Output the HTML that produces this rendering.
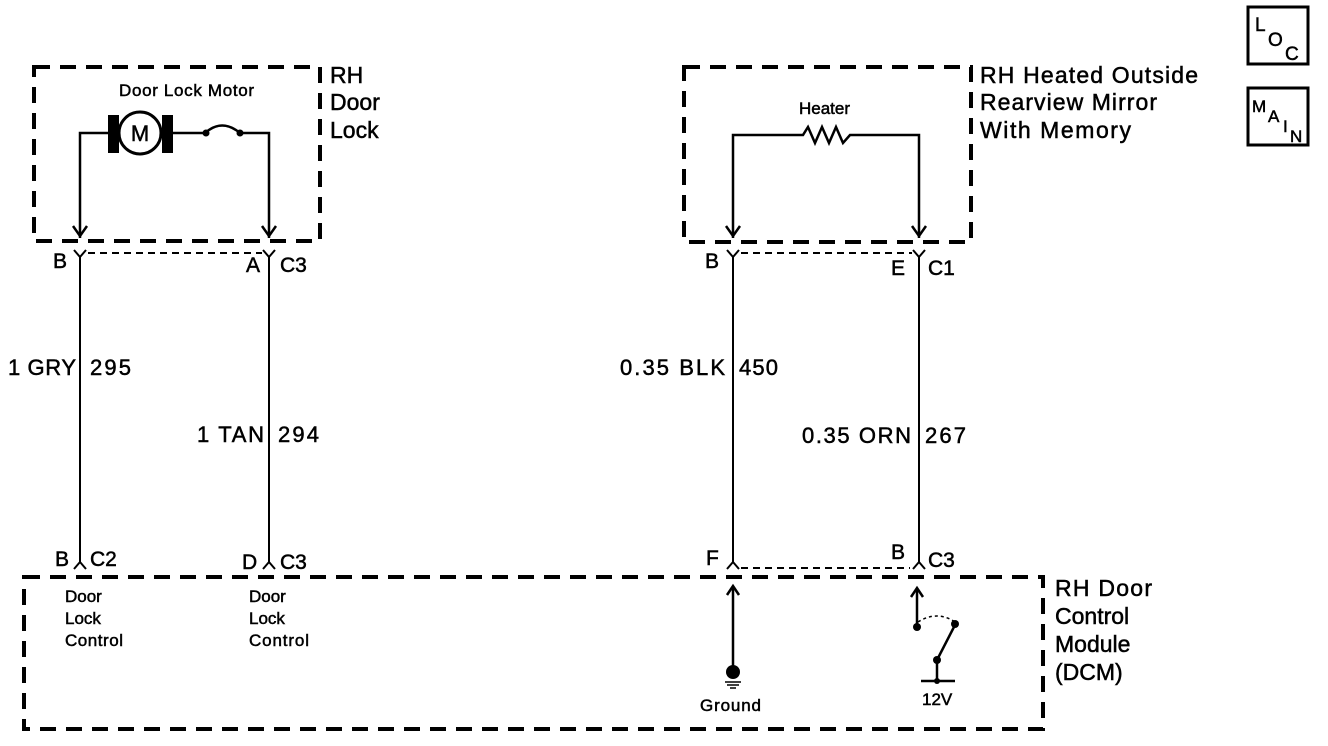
<!DOCTYPE html>
<html><head><meta charset="utf-8"><style>
html,body{margin:0;padding:0;background:#fff;}
svg{display:block;}
text{font-family:"Liberation Sans",Arial,sans-serif;fill:#000;stroke:#000;stroke-width:0.5;}
</style></head><body>
<svg width="1328" height="746" viewBox="0 0 1328 746" xmlns="http://www.w3.org/2000/svg">
<g fill="none" stroke="#000">
<rect x="34" y="67" width="286" height="174" stroke-width="4" stroke-dasharray="16,10"/>
<rect x="684" y="67" width="287" height="175" stroke-width="4" stroke-dasharray="16,10"/>
<rect x="24" y="577" width="1019" height="152" stroke-width="4" stroke-dasharray="16,10"/>
<line x1="88" y1="253" x2="262" y2="253" stroke-width="2" stroke-dasharray="7,5"/>
<line x1="741" y1="253" x2="912" y2="253" stroke-width="2" stroke-dasharray="7,5"/>
<line x1="741" y1="568" x2="910" y2="568" stroke-width="2" stroke-dasharray="7,5"/>
<polyline points="80,238 80,133 108,133" stroke-width="2.5"/>
<polyline points="172,133 205,133" stroke-width="2.5"/>
<path d="M205,133 Q222,118 240,133" stroke-width="2.5"/>
<polyline points="240,133 269,133 269,238" stroke-width="2.5"/>
<polyline points="73,226 80,236 87,226" stroke-width="2.5"/>
<polyline points="262,226 269,236 276,226" stroke-width="2.5"/>
<polyline points="733,238 733,135 803,135 808,127 815,143 822,127 829,143 836,127 843,143 850,135 919,135 919,238" stroke-width="2.5"/>
<polyline points="726,226 733,236 740,226" stroke-width="2.5"/>
<polyline points="912,226 919,236 926,226" stroke-width="2.5"/>
<g stroke-width="2">
<polyline points="74,250 80,257 86,250"/><line x1="80" y1="257" x2="80" y2="555"/>
<polyline points="263,250 269,257 275,250"/><line x1="269" y1="257" x2="269" y2="555"/>
<polyline points="727,250 733,257 739,250"/><line x1="733" y1="257" x2="733" y2="555"/>
<polyline points="913,250 919,257 925,250"/><line x1="919" y1="257" x2="919" y2="555"/>
<polyline points="74,569 80,562 86,569"/><line x1="80" y1="545" x2="80" y2="562"/>
<polyline points="263,569 269,562 275,569"/><line x1="269" y1="545" x2="269" y2="562"/>
<polyline points="727,569 733,562 739,569"/><line x1="733" y1="545" x2="733" y2="562"/>
<polyline points="913,569 919,562 925,569"/><line x1="919" y1="545" x2="919" y2="562"/>
</g>
<line x1="733" y1="586" x2="733" y2="668" stroke-width="2.5"/>
<polyline points="727,595 733,586 739,595" stroke-width="2.5"/>
<line x1="725" y1="682" x2="741" y2="682" stroke-width="1.5"/>
<line x1="727" y1="685" x2="739" y2="685" stroke-width="1.5"/>
<line x1="730" y1="688" x2="736" y2="688" stroke-width="1.5"/>
<line x1="917" y1="588" x2="917" y2="626" stroke-width="2.5"/>
<polyline points="911,597 917,588 923,597" stroke-width="2.5"/>
<path d="M918,622 Q937,610 955,622" stroke-width="1.5" stroke-dasharray="3,3"/>
<line x1="955" y1="625" x2="937" y2="660" stroke-width="2.5"/>
<line x1="937" y1="660" x2="937" y2="681" stroke-width="2.5"/>
<line x1="921" y1="681" x2="955" y2="681" stroke-width="2.5"/>
<rect x="1248" y="7" width="60" height="57" stroke-width="3"/>
<rect x="1248" y="88" width="60" height="57" stroke-width="3"/>
</g>
<rect x="108" y="115" width="11" height="38" fill="#000"/>
<rect x="162" y="115" width="11" height="38" fill="#000"/>
<circle cx="140" cy="133" r="21" fill="#fff" stroke="#000" stroke-width="3"/>
<text x="140" y="141" font-size="22" text-anchor="middle">M</text>
<circle cx="206" cy="133" r="3.5" fill="#000"/>
<circle cx="240" cy="133" r="3.5" fill="#000"/>
<circle cx="733" cy="672" r="7" fill="#000"/>
<circle cx="917" cy="627" r="4" fill="#000"/>
<circle cx="955" cy="624" r="4" fill="#000"/>
<circle cx="937" cy="660" r="4" fill="#000"/>
<circle cx="937" cy="681" r="3" fill="#000"/>
<text x="119" y="96" font-size="17" textLength="135">Door Lock Motor</text>
<text x="799" y="114" font-size="17">Heater</text>
<text x="330" y="83" font-size="23">RH</text>
<text x="330" y="110" font-size="23">Door</text>
<text x="330" y="138" font-size="23">Lock</text>
<text x="980" y="83" font-size="23" textLength="218">RH Heated Outside</text>
<text x="980" y="110" font-size="23" textLength="177">Rearview Mirror</text>
<text x="980" y="138" font-size="23" textLength="151">With Memory</text>
<text x="1055" y="596" font-size="23" textLength="97">RH Door</text>
<text x="1055" y="624" font-size="23">Control</text>
<text x="1055" y="652" font-size="23">Module</text>
<text x="1055" y="680" font-size="23">(DCM)</text>
<text x="53" y="268" font-size="21">B</text>
<text x="246" y="272" font-size="21">A</text>
<text x="280" y="272" font-size="21">C3</text>
<text x="705" y="268" font-size="21">B</text>
<text x="891" y="275" font-size="21">E</text>
<text x="928" y="275" font-size="21">C1</text>
<text x="8" y="375" font-size="22" textLength="68">1 GRY</text><text x="90" y="375" font-size="22" textLength="41">295</text>
<text x="197" y="442" font-size="22" textLength="67">1 TAN</text><text x="278" y="442" font-size="22" textLength="41">294</text>
<text x="620" y="375" font-size="22" textLength="105">0.35 BLK</text><text x="739" y="375" font-size="22" textLength="39">450</text>
<text x="802" y="443" font-size="22" textLength="109">0.35 ORN</text><text x="925" y="443" font-size="22" textLength="41">267</text>
<text x="55" y="566" font-size="21">B</text><text x="90" y="566" font-size="21">C2</text>
<text x="242" y="569" font-size="21">D</text><text x="280" y="569" font-size="21">C3</text>
<text x="706" y="565" font-size="21">F</text>
<text x="891" y="559" font-size="21">B</text><text x="928" y="567" font-size="21">C3</text>
<text x="65" y="602" font-size="17">Door</text>
<text x="65" y="624" font-size="17">Lock</text>
<text x="65" y="646" font-size="17" textLength="58">Control</text>
<text x="249" y="602" font-size="17">Door</text>
<text x="249" y="624" font-size="17">Lock</text>
<text x="249" y="646" font-size="17" textLength="60">Control</text>
<text x="700" y="711" font-size="17" textLength="61">Ground</text>
<text x="922" y="705" font-size="17">12V</text>
<text x="1255" y="31" font-size="19">L</text>
<text x="1268" y="46" font-size="19">O</text>
<text x="1285" y="60" font-size="19">C</text>
<text x="1252" y="112" font-size="17">M</text>
<text x="1268" y="122" font-size="17">A</text>
<text x="1283" y="132" font-size="17">I</text>
<text x="1290" y="142" font-size="17">N</text>
</svg>
</body></html>
